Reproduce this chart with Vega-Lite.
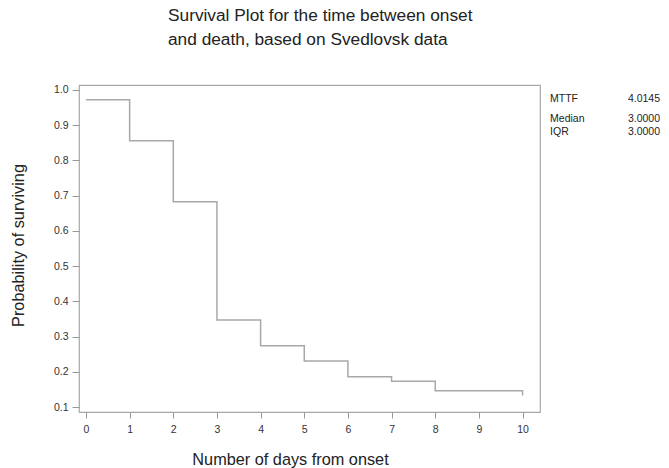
{
  "$schema": "https://vega.github.io/schema/vega-lite/v6.json",
  "width": 461,
  "height": 327,
  "autosize": "none",
  "padding": {"left": 79, "top": 85, "right": 129, "bottom": 56},
  "background": "white",
  "config": {
    "font": "Liberation Sans",
    "view": {"stroke": "#a8a8a8", "strokeWidth": 1.2},
    "axis": {
      "grid": false,
      "domain": false,
      "tickColor": "#999999",
      "tickSize": 6,
      "labelOverlap": false,
      "labelFont": "Liberation Sans",
      "labelFontSize": 10.5,
      "labelColor": "#333333",
      "titleFont": "Liberation Sans",
      "titleFontWeight": "normal",
      "titleFontSize": 16.3,
      "titleColor": "#222222"
    }
  },
  "title": {
    "text": ["Survival Plot for the time between onset", "and death, based on Svedlovsk data"],
    "anchor": "start",
    "frame": "group",
    "align": "left",
    "dx": 89,
    "offset": 37,
    "fontSize": 17.3,
    "fontWeight": "normal",
    "font": "Liberation Sans",
    "color": "#222222",
    "lineHeight": 24
  },
  "datasets": {
    "surv": [
      {"day": 0, "prob": 0.972},
      {"day": 1, "prob": 0.856},
      {"day": 2, "prob": 0.683},
      {"day": 3, "prob": 0.347},
      {"day": 4, "prob": 0.274},
      {"day": 5, "prob": 0.231},
      {"day": 6, "prob": 0.186},
      {"day": 7, "prob": 0.173},
      {"day": 8, "prob": 0.146},
      {"day": 10, "prob": 0.133}
    ],
    "stats": [
      {"label": "MTTF", "value": "4.0145", "lx": 10.63, "vx": 13.15, "py": 0.974},
      {"label": "Median", "value": "3.0000", "lx": 10.63, "vx": 13.15, "py": 0.918},
      {"label": "IQR", "value": "3.0000", "lx": 10.63, "vx": 13.15, "py": 0.881}
    ]
  },
  "layer": [
    {
      "data": {"name": "surv"},
      "mark": {"type": "line", "interpolate": "step-after", "color": "#a8a8a8", "strokeWidth": 1.5},
      "encoding": {
        "x": {
          "field": "day", "type": "quantitative",
          "scale": {"domain": [-0.16, 10.4], "nice": false, "zero": false},
          "axis": {
            "values": [0, 1, 2, 3, 4, 5, 6, 7, 8, 9, 10],
            "format": "d",
            "tickCount": 20,
            "labelPadding": 6,
            "title": "Number of days from onset",
            "titleX": 211,
            "titleY": 47,
            "titleAlign": "center",
            "titleBaseline": "middle"
          }
        },
        "y": {
          "field": "prob", "type": "quantitative",
          "scale": {"domain": [0.086, 1.014], "nice": false, "zero": false},
          "axis": {
            "values": [0.1, 0.2, 0.3, 0.4, 0.5, 0.6, 0.7, 0.8, 0.9, 1.0],
            "format": ".1f",
            "tickSize": 7,
            "tickCount": 20,
            "labelOverlap": false,
            "labelPadding": 4,
            "title": "Probability of surviving",
            "titleX": -61,
            "titleY": 160,
            "titleAngle": -90,
            "titleAlign": "center",
            "titleBaseline": "middle"
          }
        }
      }
    },
    {
      "data": {"name": "stats"},
      "mark": {"type": "text", "align": "left", "baseline": "middle", "fontSize": 10.5, "color": "#222222", "clip": false},
      "encoding": {
        "x": {"field": "lx", "type": "quantitative"},
        "y": {"field": "py", "type": "quantitative"},
        "text": {"field": "label"}
      }
    },
    {
      "data": {"name": "stats"},
      "mark": {"type": "text", "align": "right", "baseline": "middle", "fontSize": 10.5, "color": "#222222", "clip": false},
      "encoding": {
        "x": {"field": "vx", "type": "quantitative"},
        "y": {"field": "py", "type": "quantitative"},
        "text": {"field": "value"}
      }
    }
  ]
}
